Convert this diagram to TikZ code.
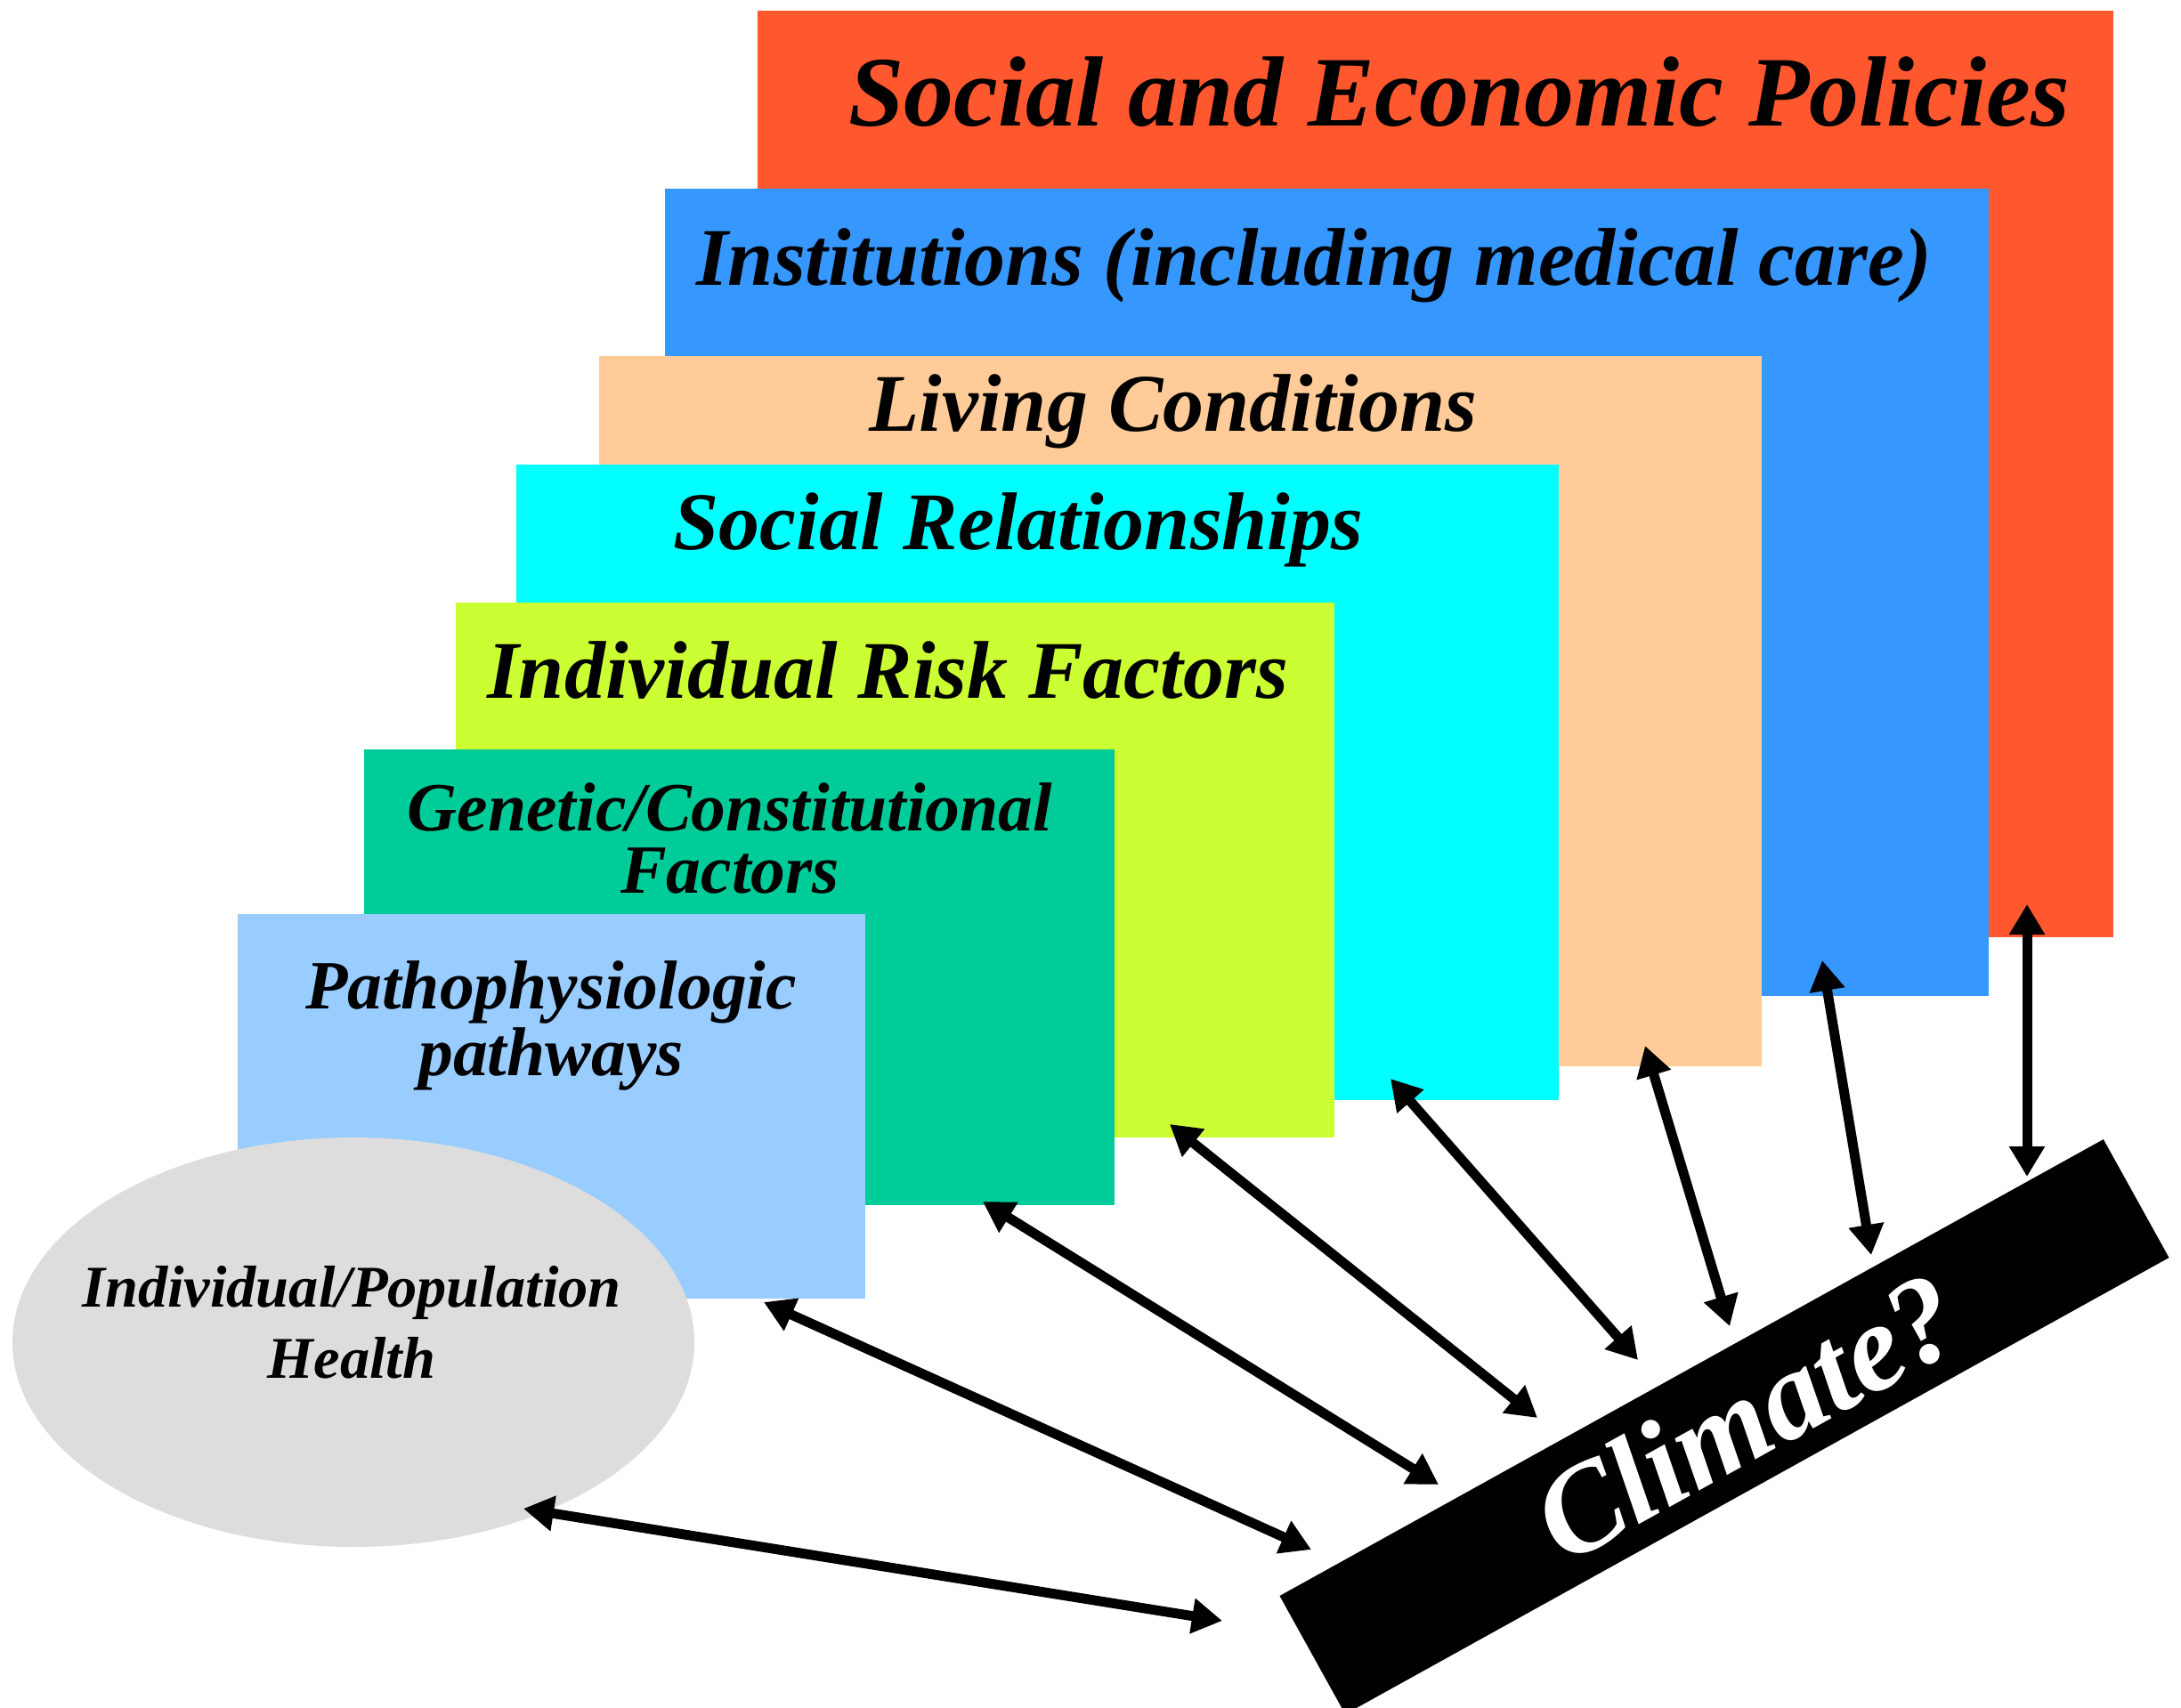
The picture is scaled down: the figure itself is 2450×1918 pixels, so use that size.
\documentclass[tikz,border=0pt]{standalone}
\usepackage{fontspec}
\setmainfont{Liberation Serif}
\usetikzlibrary{arrows.meta,shapes.geometric}

\begin{document}
\begin{tikzpicture}[x=0.25pt,y=0.25pt,yscale=-1,
  lbl/.style={anchor=base,inner sep=0.75pt,align=center},
  link/.style={line width=2.75pt,{Triangle[length=8.5pt,width=9.5pt]}-{Triangle[length=8.5pt,width=9.5pt]}}]
\useasboundingbox (0,0) rectangle (2450,1918);

%Shape: Rectangle
\fill [color={rgb, 255:red, 255; green, 87; blue, 46 }] (851,12) rectangle (2374,1053);
%Shape: Rectangle
\fill [color={rgb, 255:red, 54; green, 152; blue, 255 }] (747,212) rectangle (2234,1119);
%Shape: Rectangle
\fill [color={rgb, 255:red, 255; green, 204; blue, 153 }] (673,400) rectangle (1979,1198);
%Shape: Rectangle
\fill [color={rgb, 255:red, 0; green, 255; blue, 255 }] (580,522) rectangle (1751,1236);
%Shape: Rectangle
\fill [color={rgb, 255:red, 204; green, 255; blue, 51 }] (512,677) rectangle (1499,1278);
%Shape: Rectangle
\fill [color={rgb, 255:red, 0; green, 204; blue, 153 }] (409,842) rectangle (1252,1354);
%Shape: Rectangle
\fill [color={rgb, 255:red, 153; green, 204; blue, 255 }] (267,1027) rectangle (972,1459);
%Shape: Ellipse
\node [ellipse,fill={rgb, 255:red, 221; green, 221; blue, 221 },inner sep=0pt,minimum width=191.5pt,minimum height=115pt] (health) at (397,1508) {};
%Shape: Climate bar
\node [fill=black,inner sep=0pt,minimum width=264.5pt,minimum height=38pt,rotate=29] (climate) at (1937,1603) {};
% Text Node
\draw (1962,1592) node [rotate=29,text=white,inner sep=0pt,font=\fontsize{35}{40}\selectfont\bfseries\itshape] (climtxt) {Climate?};

% Text Node
\draw (1639,141) node [lbl,font=\fontsize{28}{32}\selectfont\bfseries\itshape] (policies) {Social and Economic Policies};
% Text Node
\draw (1476,320) node [lbl,font=\fontsize{23}{27}\selectfont\bfseries\itshape] (institutions) {Institutions (including medical care)};
% Text Node
\draw (1318,484) node [lbl,font=\fontsize{23}{27}\selectfont\bfseries\itshape] (living) {Living Conditions};
% Text Node
\draw (1144,617) node [lbl,font=\fontsize{23}{27}\selectfont\bfseries\itshape] (social) {Social Relationships};
% Text Node
\draw (997,784) node [lbl,font=\fontsize{23}{27}\selectfont\bfseries\itshape] (risk) {Individual Risk Factors};
% Text Node
\draw (820,1003) node [lbl,font=\fontsize{19.4}{17.5}\selectfont\bfseries\itshape] (genetic) {Genetic/Constitutional\\Factors};
% Text Node
\draw (619,1208) node [lbl,font=\fontsize{19.4}{18.75}\selectfont\bfseries\itshape] (patho) {Pathophysiologic\\pathways};
% Text Node
\draw (395,1548) node [lbl,font=\fontsize{16.6}{20}\selectfont\bfseries\itshape] (healthtxt) {Individual/Population\\Health};

%Arrow ends
\coordinate (hEnd) at (588,1695);
\coordinate (hClim) at (1373,1821);
\coordinate (pEnd) at (858,1463);
\coordinate (pClim) at (1473,1741);
\coordinate (gEnd) at (1104,1350);
\coordinate (gClim) at (1616,1668);
\coordinate (rEnd) at (1314,1263);
\coordinate (rClim) at (1727,1593);
\coordinate (sEnd) at (1562,1212);
\coordinate (sClim) at (1840,1528);
\coordinate (lEnd) at (1848,1175);
\coordinate (lClim) at (1943,1490);
\coordinate (iEnd) at (2047,1079);
\coordinate (iClim) at (2102,1410);
\coordinate (eEnd) at (2277,1016);
\coordinate (eClim) at (2277,1322);

%Straight Lines
\draw [link] (hEnd) -- (hClim);
\draw [link] (pEnd) -- (pClim);
\draw [link] (gEnd) -- (gClim);
\draw [link] (rEnd) -- (rClim);
\draw [link] (sEnd) -- (sClim);
\draw [link] (lEnd) -- (lClim);
\draw [link] (iEnd) -- (iClim);
\draw [link] (eEnd) -- (eClim);

\end{tikzpicture}
\end{document}
